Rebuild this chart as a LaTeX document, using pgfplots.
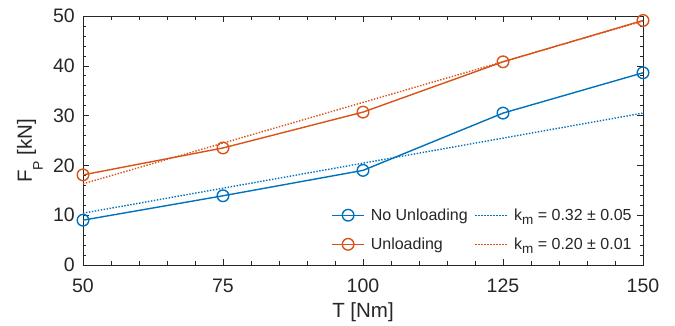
\documentclass[border=0pt]{standalone}
\usepackage{pgfplots}
\pgfplotsset{compat=1.18}
\usepackage{fontspec}
\setmainfont{Liberation Sans}
\definecolor{mblue}{RGB}{0,114,189}
\definecolor{morange}{RGB}{217,83,25}
\newcommand{\sub}[1]{\raisebox{-0.5ex}{\fontsize{13.5}{13.5}\selectfont #1}}
\begin{document}
\begin{tikzpicture}
\begin{axis}[
  scale only axis, width=560pt, height=249pt,
  xmin=50, xmax=150, ymin=0, ymax=50,
  xtick={50,75,100,125,150}, ytick={0,10,20,30,40,50},
  minor x tick num=4, minor y tick num=4,
  tick align=inside,
  major tick length=6pt, minor tick length=3.5pt,
  tick style={black!85, line width=0.6pt},
  axis line style={black!85, line width=0.8pt},
  /pgf/number format/assume math mode=true,
  tick label style={font=\fontsize{19.5}{21}\selectfont, text=black!85, inner sep=0pt},
  xticklabel style={anchor=base, yshift=-28pt},
  yticklabel style={anchor=east, xshift=-8pt},
  xlabel={T [Nm]}, ylabel={F\raisebox{-11pt}{\fontsize{14}{14}\selectfont P} [kN]},
  label style={font=\fontsize{20.5}{22}\selectfont, text=black!85, inner sep=0pt},
  xlabel style={at={(rel axis cs:0.5,-0.1888)}, anchor=center},
  ylabel style={at={(rel axis cs:-0.0946,0.458)}, anchor=center},
  legend columns=2,
  legend style={draw=none, fill=none, at={(rel axis cs:0.98,0.056)}, anchor=south east,
    font=\fontsize{16}{18}\selectfont, text=black!85,
    nodes={inner sep=0pt},
    /tikz/every odd column/.append style={column sep=6pt},
    /tikz/every even column/.append style={column sep=7pt},
    row sep=16pt, inner sep=0pt},
  legend cell align=left,
  legend image code/.code={\draw[#1] (0pt,0pt) -- (32pt,0pt); \draw[#1, only marks] plot coordinates {(16pt,0pt)};},
]
\addplot[mblue, line width=1.4pt, mark=o, mark size=5.8pt, mark options={fill=white, line width=1.4pt}] coordinates {(50,9.0) (75,13.9) (100,19.0) (125,30.5) (150,38.6)};
\addlegendentry{No Unloading}
\addplot[mblue, line width=1.4pt, dash pattern=on 1.4pt off 1.6pt] coordinates {(50,10.4) (150,30.5)};
\addlegendentry{k\sub{m} = 0.32 ± 0.05}
\addplot[morange, line width=1.4pt, mark=o, mark size=5.8pt, mark options={fill=white, line width=1.4pt}] coordinates {(50,18.1) (75,23.5) (100,30.7) (125,40.8) (150,49.1)};
\addlegendentry{Unloading}
\addplot[morange, line width=1.4pt, dash pattern=on 1.4pt off 1.6pt] coordinates {(50,16.3) (150,49.0)};
\addlegendentry{k\sub{m} = 0.20 ± 0.01}
\coordinate (SW) at (rel axis cs:0,0);
\coordinate (NE) at (rel axis cs:1,1);
\end{axis}
\pgfresetboundingbox
\path ([shift={(-83pt,-61pt)}]SW) rectangle ([shift={(32pt,16pt)}]NE);
\end{tikzpicture}
\end{document}
